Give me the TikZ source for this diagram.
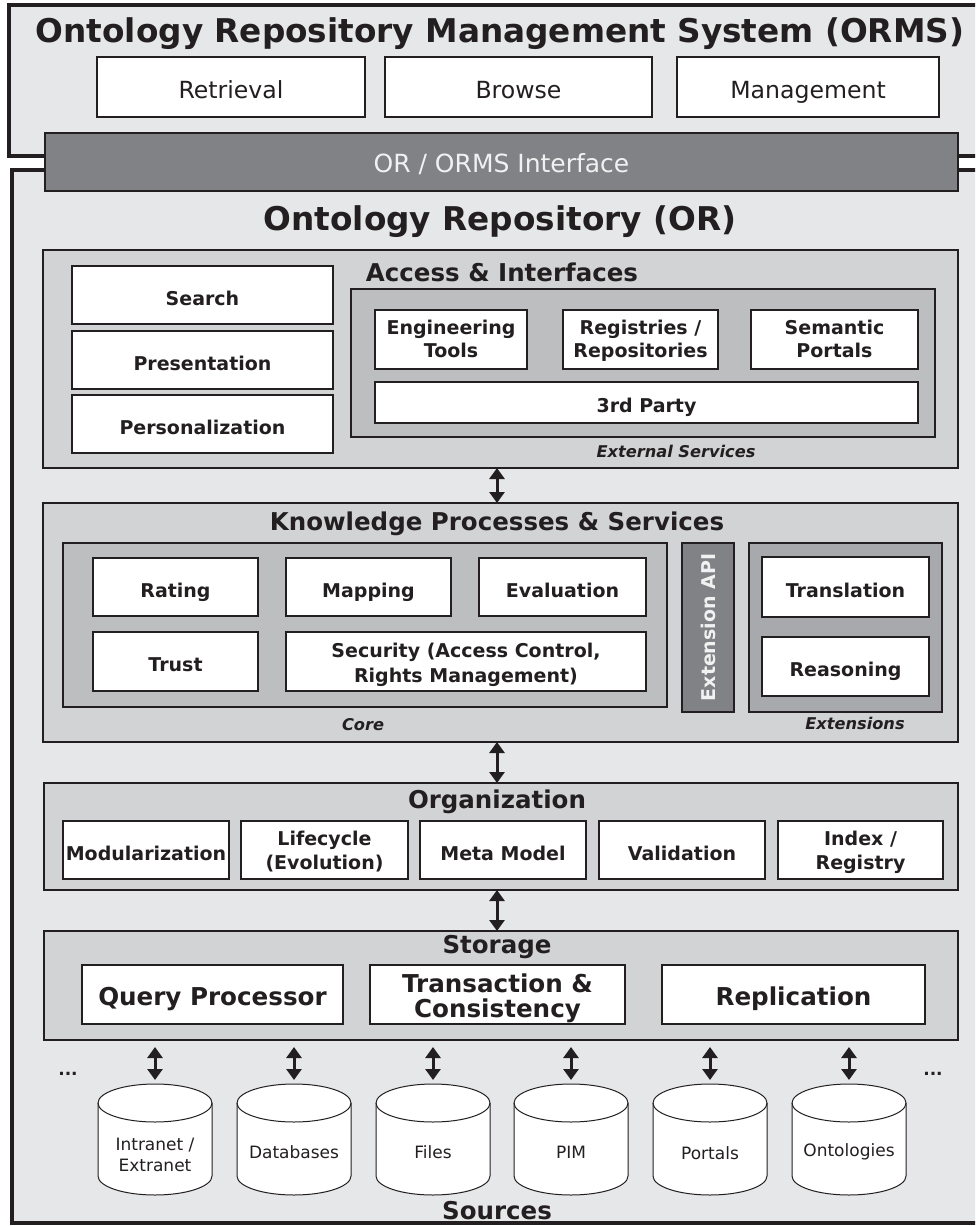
\documentclass[tikz,border=0pt]{standalone}
\usepackage{fontspec}
\setmainfont{DejaVu Sans}
\usetikzlibrary{arrows.meta}
\definecolor{ink}{HTML}{231F20}
\definecolor{pagebg}{HTML}{E6E7E8}
\definecolor{layerbg}{HTML}{D1D3D4}
\definecolor{groupbg}{HTML}{BCBEC0}
\definecolor{extbg}{HTML}{A7A9AC}
\definecolor{apibg}{HTML}{808285}
\definecolor{apitext}{HTML}{F1F1F2}
\begin{document}
\begin{tikzpicture}[x=1pt,y=-1pt,
  every node/.style={inner sep=0pt, outer sep=0pt, text=ink},
  sz/.style 2 args={minimum width=#1pt, minimum height=#2pt},
  % fixed text box so that baselines sit at the same place in every box
  tb/.style 2 args={text height=#1pt, text depth=#2pt},
  outerbox/.style={draw=ink, line width=4.5pt, fill=pagebg},
  layer/.style={draw=ink, line width=2.5pt, fill=layerbg},
  group/.style={draw=ink, line width=1.2pt, fill=groupbg},
  extgroup/.style={draw=ink, line width=1.2pt, fill=extbg},
  apibar/.style={draw=ink, line width=1.2pt, fill=apibg},
  iface/.style={draw=ink, line width=2.5pt, fill=apibg, text=apitext, tb={20}{0},
    font=\fontsize{25}{28}\selectfont},
  button/.style={draw=ink, line width=1.2pt, fill=white, tb={22}{0},
    font=\fontsize{23.6}{27}\selectfont},
  item/.style={draw=ink, line width=1.2pt, fill=white, align=center, tb={20}{0},
    font=\fontsize{19}{23}\selectfont\bfseries},
  bigitem/.style={draw=ink, line width=1.2pt, fill=white, align=center, tb={21}{0},
    font=\fontsize{24.6}{25}\selectfont\bfseries},
  bigtitle/.style={font=\fontsize{32.7}{36}\selectfont\bfseries},
  layertitle/.style={font=\fontsize{24.5}{28}\selectfont\bfseries},
  caption/.style={font=\fontsize{16.2}{19}\selectfont\bfseries\itshape},
  apilabel/.style={text=apitext, rotate=90, font=\fontsize{19}{23}\selectfont\bfseries},
  cylnode/.style={minimum width=114pt, minimum height=111pt},
  cylbody/.style={draw=ink, line width=1pt, fill=white},
  cyltext/.style={align=center, font=\fontsize{17}{21}\selectfont},
  dots/.style={font=\fontsize{17}{20}\selectfont\bfseries},
  dbl/.style={draw=ink, line width=3pt,
    {Triangle[length=11pt,width=15pt]}-{Triangle[length=11pt,width=15pt]}},
]
\useasboundingbox (0,0) rectangle (975,1226);
\fill[white] (0,0) rectangle (975,1226);
\begin{scope}
\clip (0,0) rectangle (975,1226);

% ---------- ORMS frame ----------
\draw[outerbox] (9,5) rectangle (1010,156);
\node[bigtitle] (ormstitle) at (500,34) {Ontology Repository Management System (ORMS)};
\node[button, sz={268}{60}] (retrieval) at (231,87) {Retrieval};
\node[button, sz={267}{60}] (browse) at (518.5,87) {Browse};
\node[button, sz={262}{60}] (management) at (808,87) {Management};

% ---------- OR frame ----------
\draw[outerbox] (12,170) rectangle (1010,1223);
\node[iface, sz={913}{58}] (interface) at (501.5,162) {OR / ORMS Interface};
\node[bigtitle] (ortitle) at (500,222) {Ontology Repository (OR)};

% ---------- Access & Interfaces ----------
\node[layer, sz={915}{218}] (access) at (500.5,359) {};
\node[layertitle] (accesstitle) at (502,272) {Access \& Interfaces};
\node[item, sz={261}{58}] (search) at (202.5,295) {Search};
\node[item, sz={261}{58}] (presentation) at (202.5,360) {Presentation};
\node[item, sz={261}{58}] (personalization) at (202.5,424) {Personalization};
\node[group, sz={584}{148}] (external) at (643,363) {};
\node[item, sz={152}{59}, tb={35}{0}] (engtools) at (451,339.5) {Engineering\\Tools};
\node[item, sz={155}{59}, tb={35}{0}] (registries) at (640.5,339.5) {Registries /\\Repositories};
\node[item, sz={167}{59}, tb={35}{0}] (portals) at (834.5,339.5) {Semantic\\Portals};
\node[item, sz={543}{41}] (thirdparty) at (646.5,402.5) {3rd Party};
\node[caption] (extcap) at (676,451) {External Services};

% ---------- Knowledge Processes & Services ----------
\node[layer, sz={915}{239}] (knowledge) at (500.5,622.5) {};
\node[layertitle] (knowtitle) at (497,524) {Knowledge Processes \& Services};
\node[group, sz={604}{164}] (core) at (365,625) {};
\node[item, sz={165}{58}] (rating) at (175.5,587) {Rating};
\node[item, sz={165}{58}] (mapping) at (368.5,587) {Mapping};
\node[item, sz={167}{58}] (evaluation) at (562.5,587) {Evaluation};
\node[item, sz={165}{59}] (trust) at (175.5,661.5) {Trust};
\node[item, sz={360}{59}, tb={41}{0}, font=\fontsize{19}{25}\selectfont\bfseries]
  (security) at (466,661.5) {Security (Access Control,\\Rights Management)};
\node[caption] (corecap) at (363,725) {Core};
\node[apibar, sz={52}{169}] (extapi) at (708,627.5) {};
\node[apilabel] (extapitext) at (extapi.center) {Extension API};
\node[extgroup, sz={193}{169}] (extensions) at (845.5,627.5) {};
\node[item, sz={167}{60}] (translation) at (845.5,587) {Translation};
\node[item, sz={167}{59}] (reasoning) at (845.5,666.5) {Reasoning};
\node[caption] (extscap) at (855,723) {Extensions};

% ---------- Organization ----------
\node[layer, sz={914}{107}] (organization) at (501,836.5) {};
\node[layertitle] (orgtitle) at (497,802) {Organization};
\node[item, sz={166}{58}] (modular) at (146,850) {Modularization};
\node[item, sz={167}{58}, tb={38}{0}, font=\fontsize{19}{24}\selectfont\bfseries]
  (lifecycle) at (324.5,850) {Lifecycle\\(Evolution)};
\node[item, sz={166}{58}] (metamodel) at (503,850) {Meta Model};
\node[item, sz={166}{58}] (validation) at (682,850) {Validation};
\node[item, sz={165}{58}, tb={38}{0}, font=\fontsize{19}{24}\selectfont\bfseries]
  (index) at (860.5,850) {Index /\\Registry};

% ---------- Storage ----------
\node[layer, sz={914}{109}] (storage) at (501,985.5) {};
\node[layertitle] (storetitle) at (497,947) {Storage};
\node[bigitem, sz={261}{59}] (query) at (212.5,994.5) {Query Processor};
\node[bigitem, sz={255}{59}, tb={45}{0}] (transaction) at (497.5,994.5) {Transaction \&\\Consistency};
\node[bigitem, sz={263}{59}] (replication) at (793.5,994.5) {Replication};

% ---------- links between layers ----------
\draw[dbl] (access.south -| 497,0) -- (knowledge.north -| 497,0);
\draw[dbl] (knowledge.south -| 497,0) -- (organization.north -| 497,0);
\draw[dbl] (organization.south -| 497,0) -- (storage.north -| 497,0);

% ---------- Sources ----------
\foreach \i/\cx/\txt/\dy in {1/155/{Intranet /\\Extranet}/-15.5, 2/294/Databases/-12.5,
                             3/433/Files/-12.5, 4/571/PIM/-12.5, 5/710/Portals/-13.5,
                             6/849/Ontologies/-12.5} {
  \node[cylnode] (cyl\i) at (\cx,1139.5) {};
  \path[cylbody]
    ([yshift=-19pt]cyl\i.north west) -- ([yshift=19pt]cyl\i.south west)
    arc[start angle=180, end angle=360, x radius=57pt, y radius=19pt]
    -- ([yshift=-19pt]cyl\i.north east)
    arc[start angle=0, end angle=180, x radius=57pt, y radius=19pt] -- cycle;
  \draw[draw=ink, line width=1pt] ([yshift=-19pt]cyl\i.north west)
    arc[start angle=180, end angle=360, x radius=57pt, y radius=19pt];
  \node[cyltext] (cyltext\i) at ([yshift=\dy pt]cyl\i.center) {\txt};
  \draw[dbl, shorten <=7pt, shorten >=4pt] (storage.south -| cyl\i.north) -- (cyl\i.north);
}
\node[dots] (dotsleft) at (68,1074) {...};
\node[dots] (dotsright) at (933,1074) {...};
\node[layertitle] (sourcestitle) at (497,1211) {Sources};
\end{scope}
\end{tikzpicture}
\end{document}
